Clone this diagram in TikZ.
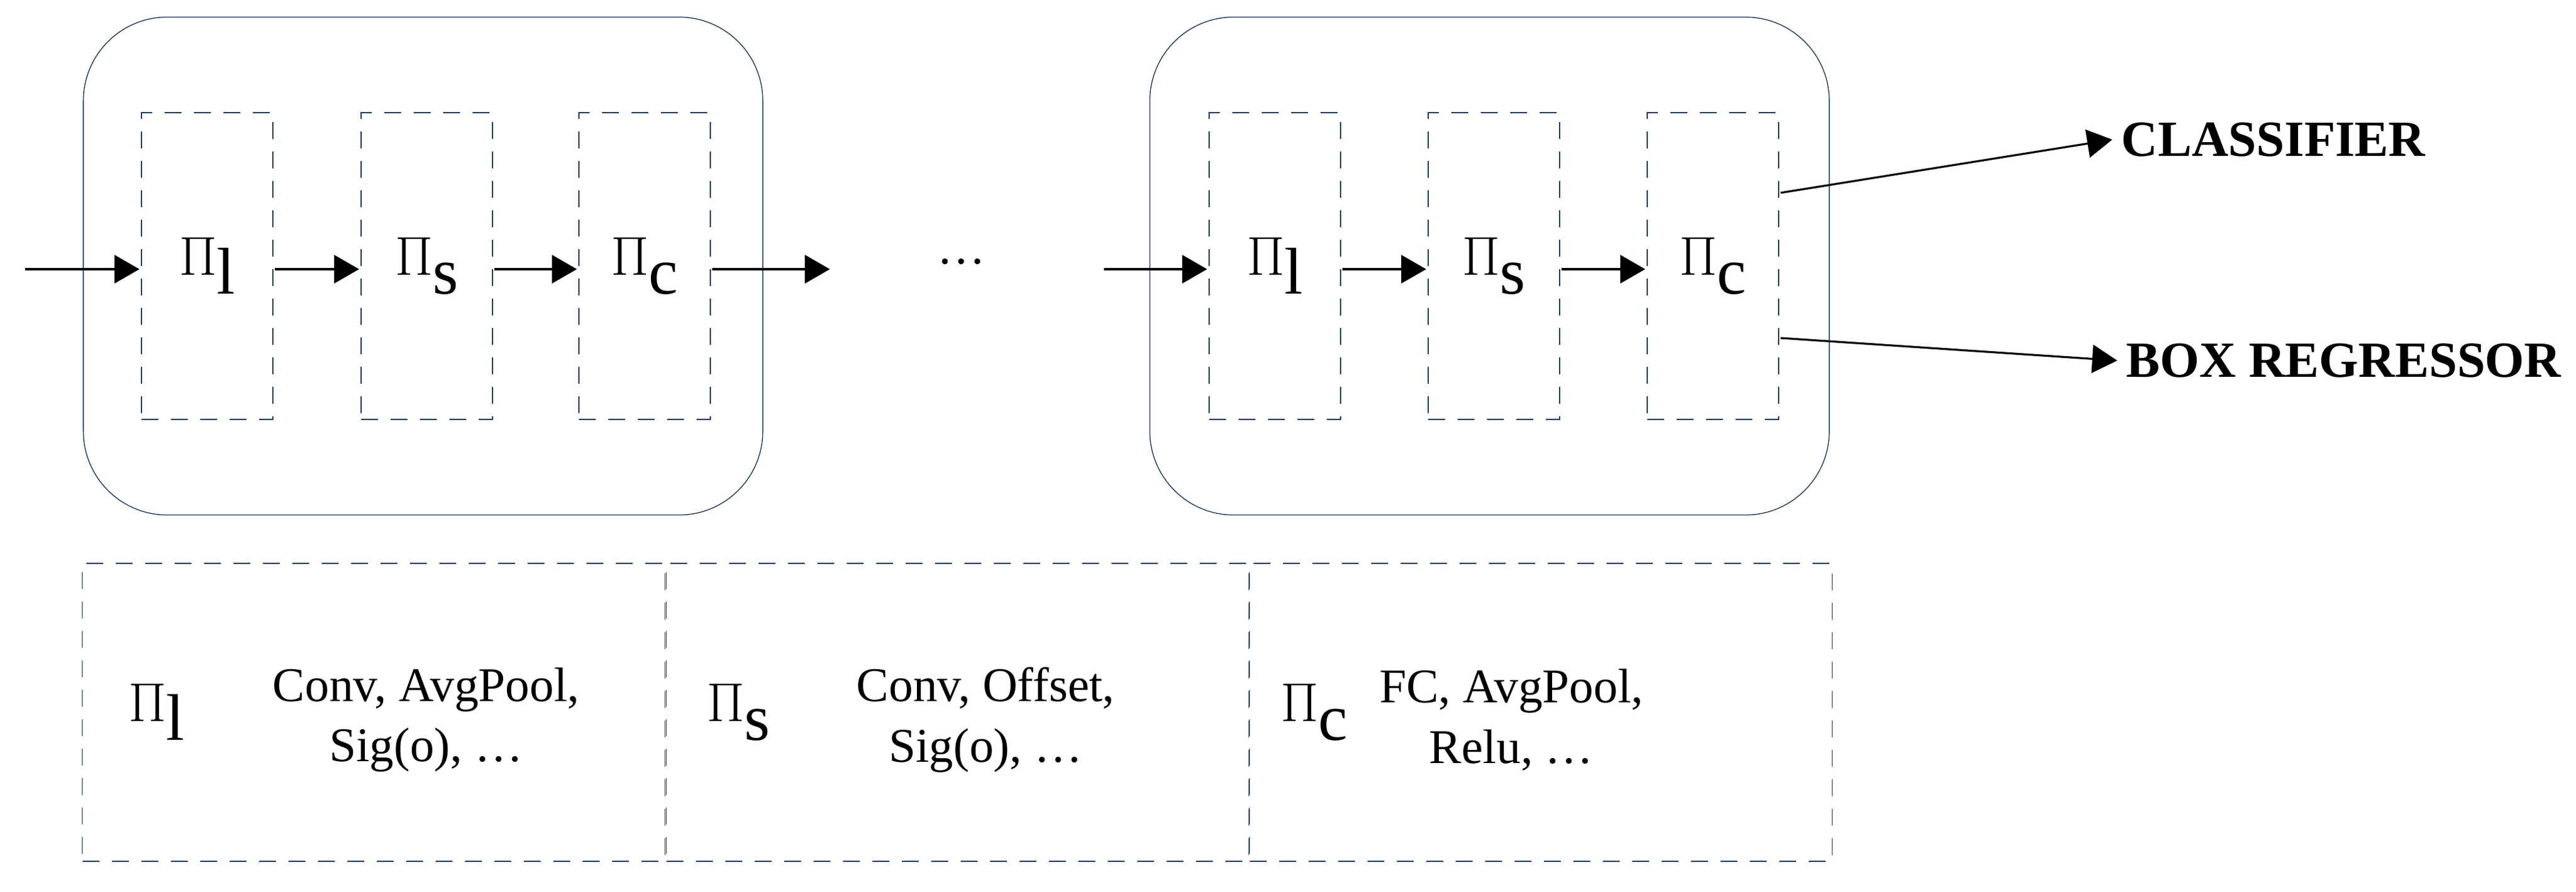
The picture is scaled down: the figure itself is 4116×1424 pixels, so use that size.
\documentclass[tikz,border=0pt]{standalone}
\usepackage{fontspec}
\setmainfont{Liberation Serif}
\usetikzlibrary{arrows.meta, positioning}
\definecolor{boxblue}{HTML}{1F3B5C}
\newcommand{\opname}[1]{{\fontsize{40}{40}\selectfont$\Pi$\raisebox{-0.3cm}{\fontsize{30}{30}\selectfont #1}}}
\begin{document}
\begin{tikzpicture}[x=0.01cm, y=-0.01cm]
	\tikzset {>={Triangle[length=0.4cm, width=0.45cm]}, line width=1.8pt,
		block/.style={draw=boxblue, rounded corners=1.34cm, minimum width=10.85cm, minimum height=7.95cm},
		op/.style={draw=boxblue, dashed, dash pattern=on 0.27cm off 0.2cm, minimum width=2.1cm, minimum height=4.9cm, inner sep=0},
		part/.style={draw=boxblue, dashed, dash pattern=on 0.27cm off 0.2cm, minimum width=9.3cm, minimum height=4.76cm},
		ops/.style={font=\fontsize{22}{27.5}\selectfont, align=center},
		flow/.style={->, line width=1.1pt},
		head/.style={font=\bfseries\fontsize{23}{27}\selectfont, anchor=west} }
	\useasboundingbox (0,0) rectangle (4116,1424);

	\node[block] (b1) at (676,425) {};
	\node[block] (b2) at (2380,425) {};
	\node[op] (l1) at (331,425) {\opname{l}};
	\node[op] (s1) at (682,425) {\opname{s}};
	\node[op] (c1) at (1030,425) {\opname{c}};
	\node[op] (l2) at (2037,425) {\opname{l}};
	\node[op] (s2) at (2387,425) {\opname{s}};
	\node[op] (c2) at (2737,425) {\opname{c}};
	\node (dots) at (1536,418) {\fontsize{22}{27}\selectfont \dots};
	\coordinate (in) at (40,430);
	\coordinate (out1) at (1326,430);
	\coordinate (in2) at (1764,430);
	\node[head] (cls) at (3375,223) {CLASSIFIER};
	\node[head] (reg) at (3383,576) {BOX REGRESSOR};

	\draw[flow] (in) -- (l1.west |- in);
	\draw[flow] (l1.east |- in) -- (s1.west |- in);
	\draw[flow] (s1.east |- in) -- (c1.west |- in);
	\draw[flow] (c1.east |- in) -- (out1);
	\draw[flow] (in2) -- (l2.west |- in);
	\draw[flow] (l2.east |- in) -- (s2.west |- in);
	\draw[flow] (s2.east |- in) -- (c2.west |- in);
	\draw[flow, line width=0.9pt] (c2.east |- 0,308) -- (cls.west);
	\draw[flow, line width=0.9pt] (c2.east |- 0,540) -- (reg.west);

	% description of the three operators
	\node[part] (pl) at (597,1138) {};
	\node[part] (ps) at (1530,1138) {};
	\node[part] (pc) at (2462,1138) {};
	\node (pil) at (250,1138) {\opname{l}};
	\node[ops] (tl) at (681,1150) {Conv, AvgPool,\\Sig(o), \dots};
	\node (pis) at (1180,1138) {\opname{s}};
	\node[ops] (ts) at (1575,1150) {Conv, Offset,\\Sig(o), \dots};
	\node (pic) at (2100,1138) {\opname{c}};
	\node[ops] (tc) at (2415,1150) {FC, AvgPool,\\Relu, \dots};
\end{tikzpicture}
\end{document}
